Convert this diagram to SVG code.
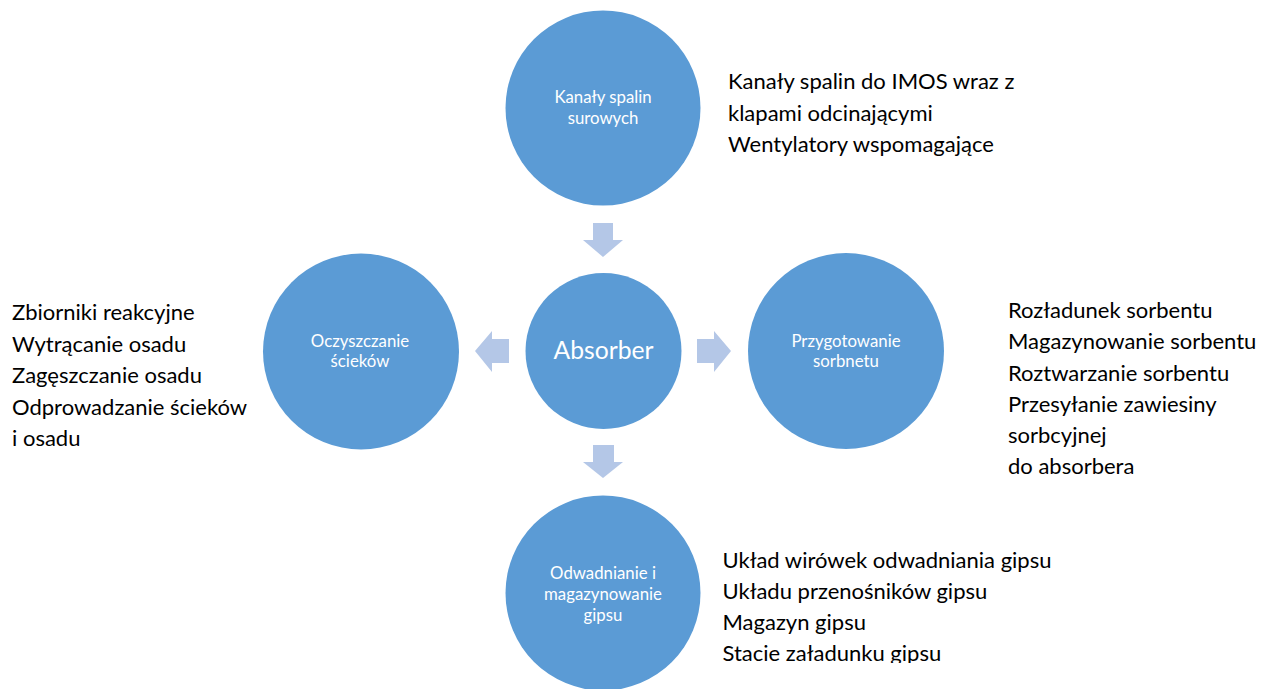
<svg xmlns="http://www.w3.org/2000/svg" width="1274" height="689" viewBox="0 0 1274 689">
<style>
.c{fill:#5b9bd5}
.a{fill:#b4c7e7}
.t{font-family:Lato,"Liberation Sans",sans-serif;fill:#fff;text-anchor:middle;font-size:16.8px}
.d{font-family:Lato,"Liberation Sans",sans-serif;fill:#000;font-size:22px}
</style>
<defs>
<clipPath id="bc"><rect x="700" y="530" width="400" height="133"/></clipPath>
</defs>
<rect width="1274" height="689" fill="#fff"/>
<g id="connectors">
<polygon class="a" points="593,223 613,223 613,240 623,240 603,257 583,240 593,240"/>
<polygon class="a" points="593,445 614,445 614,462 623,462 603,478 583,462 593,462"/>
<polygon class="a" points="509,339 509,363 492,363 492,372 475,351 492,331 492,339"/>
<polygon class="a" points="697,339 697,363 714,363 714,372 731,351 714,331 714,339"/>
</g>
<g id="top">
<circle class="c" cx="603" cy="108" r="97.5"/>
<text class="t" x="603" y="103">Kanały spalin</text>
<text class="t" x="603" y="123.5">surowych</text>
</g>
<g id="center">
<circle class="c" cx="603.5" cy="351" r="78"/>
<text class="t" x="603.5" y="358.5" style="font-size:24.7px">Absorber</text>
</g>
<g id="left">
<circle class="c" cx="361" cy="351.5" r="98"/>
<text class="t" x="360" y="346.5">Oczyszczanie</text>
<text class="t" x="360" y="367">ścieków</text>
</g>
<g id="right">
<circle class="c" cx="846" cy="351" r="98"/>
<text class="t" x="846" y="346.5">Przygotowanie</text>
<text class="t" x="846" y="367">sorbnetu</text>
</g>
<g id="bottom">
<circle class="c" cx="603" cy="593" r="97.5"/>
<text class="t" x="603" y="579">Odwadnianie i</text>
<text class="t" x="603" y="600">magazynowanie</text>
<text class="t" x="603" y="620.5">gipsu</text>
</g>
<g id="top-desc">
<text class="d" x="728" y="89">Kanały spalin do IMOS wraz z</text>
<text class="d" x="728" y="120.5">klapami odcinającymi</text>
<text class="d" x="728" y="151.5">Wentylatory wspomagające</text>
</g>
<g id="left-desc">
<text class="d" x="12" y="320">Zbiorniki reakcyjne</text>
<text class="d" x="12" y="351.5">Wytrącanie osadu</text>
<text class="d" x="12" y="383">Zagęszczanie osadu</text>
<text class="d" x="12" y="414.5">Odprowadzanie ścieków</text>
<text class="d" x="12" y="446">i osadu</text>
</g>
<g id="right-desc">
<text class="d" x="1008" y="318">Rozładunek sorbentu</text>
<text class="d" x="1008" y="349">Magazynowanie sorbentu</text>
<text class="d" x="1008" y="380.5">Roztwarzanie sorbentu</text>
<text class="d" x="1008" y="412">Przesyłanie zawiesiny</text>
<text class="d" x="1008" y="443">sorbcyjnej</text>
<text class="d" x="1008" y="474">do absorbera</text>
</g>
<g id="bottom-desc" clip-path="url(#bc)">
<text class="d" x="722.5" y="568">Układ wirówek odwadniania gipsu</text>
<text class="d" x="722.5" y="599">Układu przenośników gipsu</text>
<text class="d" x="722.5" y="630">Magazyn gipsu</text>
<text class="d" x="722.5" y="661">Stacie załadunku gipsu</text>
</g>
</svg>
